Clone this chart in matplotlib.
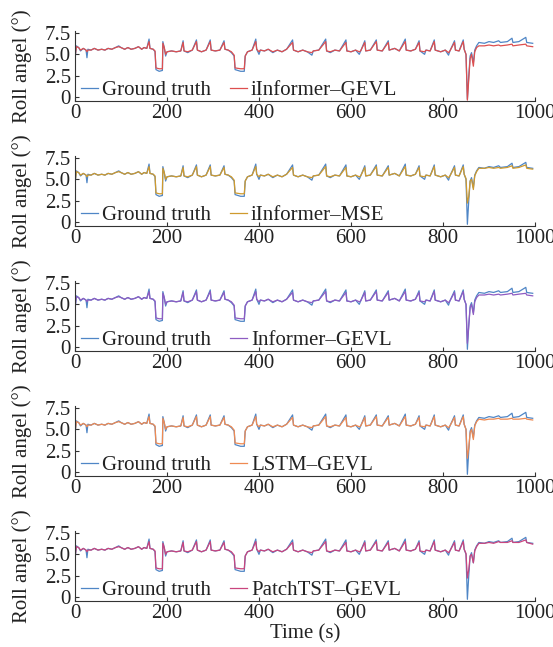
import numpy as np
import matplotlib
matplotlib.use('Agg')
import matplotlib.pyplot as plt

plt.rcParams['font.family'] = ['Liberation Serif', 'DejaVu Serif']

# time grid before the big drop (s)
t_main = [0, 3, 8, 12, 18, 24, 26, 28, 35, 42, 50, 58, 65, 72, 80, 88, 95, 100, 108, 115,
          122, 130, 138, 145, 150, 156, 161, 163, 170, 174, 176, 183, 190, 191, 194, 197, 200, 210, 220, 230,
          235, 237, 245, 255, 264, 266, 275, 285, 294, 296, 305, 315, 324, 326, 333, 340, 346, 348, 360, 368,
          370, 375, 385, 393, 395, 400, 403, 412, 420, 430, 440, 450, 460, 473, 475, 485, 495, 505, 515, 518,
          530, 545, 547, 555, 565, 575, 589, 591, 600, 610, 618, 621, 630, 632, 642, 655, 657, 668, 681, 683,
          695, 705, 718, 720, 730, 740, 748, 750, 760, 763, 772, 781, 783, 795, 805, 812, 815, 825, 827, 835,
          844]
gt_main = [4.4, 6.0, 5.8, 5.4, 5.7, 5.5, 4.6, 5.6, 5.5, 5.7, 5.5, 5.6, 5.5, 5.7, 5.6, 5.8, 6.0, 5.8, 5.6, 5.8,
           5.6, 5.7, 5.9, 5.6, 5.8, 5.7, 6.8, 5.7, 5.6, 5.3, 3.2, 3.0, 3.1, 6.5, 5.8, 4.8, 5.3, 5.4, 5.3, 5.4,
           6.6, 5.4, 5.2, 5.5, 6.7, 5.5, 5.3, 5.5, 6.7, 5.5, 5.4, 5.5, 6.6, 5.6, 5.5, 5.2, 4.8, 3.2, 3.0, 3.0,
           4.8, 5.3, 5.5, 6.8, 5.6, 5.0, 5.5, 5.4, 5.6, 5.2, 5.5, 5.3, 5.6, 6.7, 5.5, 5.3, 5.5, 5.3, 4.9, 5.4,
           5.5, 6.8, 5.4, 5.2, 5.5, 5.4, 6.7, 5.4, 5.3, 5.5, 5.0, 5.4, 6.6, 5.4, 5.5, 6.7, 5.5, 5.4, 6.6, 5.5,
           5.7, 5.4, 6.8, 5.5, 5.4, 5.6, 6.6, 5.4, 5.0, 5.5, 5.4, 6.7, 5.5, 5.3, 5.5, 4.9, 5.4, 6.6, 5.5, 5.4,
           6.7]
pred_main = [4.6, 5.9, 5.8, 5.5, 5.7, 5.5, 5.3, 5.5, 5.5, 5.7, 5.5, 5.6, 5.5, 5.7, 5.6, 5.8, 5.9, 5.8, 5.6, 5.8,
             5.6, 5.7, 5.9, 5.6, 5.8, 5.7, 6.5, 5.7, 5.6, 5.4, 3.4, 3.3, 3.3, 6.3, 5.8, 5.0, 5.3, 5.4, 5.3, 5.4,
             6.4, 5.4, 5.3, 5.5, 6.5, 5.5, 5.3, 5.5, 6.5, 5.5, 5.4, 5.5, 6.4, 5.6, 5.5, 5.3, 4.9, 3.4, 3.3, 3.3,
             4.8, 5.3, 5.5, 6.5, 5.6, 5.3, 5.5, 5.4, 5.6, 5.3, 5.5, 5.3, 5.6, 6.4, 5.5, 5.3, 5.5, 5.3, 5.2, 5.4,
             5.5, 6.5, 5.4, 5.3, 5.5, 5.4, 6.4, 5.4, 5.3, 5.5, 5.3, 5.4, 6.4, 5.4, 5.5, 6.5, 5.5, 5.4, 6.4, 5.5,
             5.7, 5.4, 6.5, 5.5, 5.4, 5.6, 6.4, 5.4, 5.3, 5.5, 5.4, 6.5, 5.5, 5.3, 5.5, 5.2, 5.4, 6.4, 5.5, 5.4,
             6.5]

# drop and final segment
t_tail = [846, 850, 853, 856, 859, 862, 866, 869, 873, 878, 890, 900, 910, 921, 925, 940, 950, 952, 965, 980, 982, 995]
gt_tail = [5.6, 5.0, -0.3, 2.5, 4.8, 5.2, 4.0, 5.5, 6.0, 6.4, 6.3, 6.5, 6.4, 6.6, 6.4, 6.5, 6.9, 6.4, 6.5, 7.0, 6.4, 6.3]
iinf_gevl_tail = [5.6, 5.0, -0.4, 2.0, 4.5, 5.0, 3.6, 5.3, 5.8, 6.0, 6.0, 6.1, 6.0, 6.1, 6.0, 6.1, 6.2, 6.0, 6.1, 6.2, 6.0, 5.9]
iinf_mse_tail = [5.6, 5.1, 2.2, 3.0, 4.8, 5.0, 3.8, 5.4, 5.9, 6.3, 6.3, 6.4, 6.3, 6.4, 6.3, 6.4, 6.6, 6.3, 6.4, 6.7, 6.3, 6.2]
inf_gevl_tail = [5.6, 5.0, 0.4, 2.5, 4.6, 5.0, 3.8, 5.3, 5.8, 6.1, 6.1, 6.2, 6.1, 6.2, 6.1, 6.2, 6.3, 6.1, 6.2, 6.3, 6.1, 6.0]
lstm_gevl_tail = [5.6, 5.0, 1.6, 2.8, 4.6, 5.0, 3.8, 5.4, 5.9, 6.2, 6.1, 6.2, 6.2, 6.3, 6.2, 6.2, 6.3, 6.2, 6.2, 6.3, 6.2, 6.1]
patch_gevl_tail = [5.6, 5.1, 2.2, 3.2, 4.8, 5.0, 4.0, 5.4, 5.9, 6.3, 6.3, 6.4, 6.3, 6.5, 6.4, 6.4, 6.6, 6.4, 6.4, 6.7, 6.4, 6.2]

models = ['iInformer\u2013GEVL', 'iInformer\u2013MSE', 'Informer\u2013GEVL', 'LSTM\u2013GEVL', 'PatchTST\u2013GEVL']
model_tails = [iinf_gevl_tail, iinf_mse_tail, inf_gevl_tail, lstm_gevl_tail, patch_gevl_tail]
colors = ['#dd4f4f', '#cf9a2e', '#8e5cc2', '#ef8a52', '#c9457e']
gt_color = '#4f86c6'

t = t_main + t_tail
gt = gt_main + gt_tail

fig = plt.figure(figsize=(5.53, 6.47), dpi=100)
W, H = 553, 647
for i in range(5):
    bottom_px = 101 + 125 * i
    ax = fig.add_axes([75 / W, 1 - bottom_px / H, 460 / W, 70 / H])
    ax.plot(t, gt, color=gt_color, lw=0.9, label='Ground truth')
    ax.plot(t, pred_main + model_tails[i], color=colors[i], lw=0.9, label=models[i])
    ax.set_xlim(0, 1000)
    ax.set_ylim(-0.5, 7.75)
    ax.set_yticks([0, 2.5, 5.0, 7.5])
    ax.set_yticklabels(['0', '2.5', '5.0', '7.5'])
    ax.set_xticks([0, 200, 400, 600, 800, 1000])
    ax.spines['top'].set_visible(False)
    ax.spines['right'].set_visible(False)
    ax.spines['left'].set_color('#333333')
    ax.spines['bottom'].set_color('#333333')
    ax.tick_params(direction='in', length=3, width=0.8, colors='#333333', labelcolor='#222222')
    ax.tick_params(axis='x', labelsize=15, pad=2)
    ax.tick_params(axis='y', labelsize=15, pad=3)
    ax.set_ylabel('Roll angel (°)', fontsize=15, color='#222222', labelpad=9)
    ax.legend(loc='lower left', bbox_to_anchor=(0.005, -0.05), ncol=2, frameon=False, fontsize=15,
              handlelength=0.8, handletextpad=0.2, columnspacing=0.9, borderpad=0.2, borderaxespad=0,
              labelcolor='#222222')
    if i == 4:
        ax.set_xlabel('Time (s)', fontsize=15, color='#222222', labelpad=1)

plt.savefig('out.png', dpi=100)
